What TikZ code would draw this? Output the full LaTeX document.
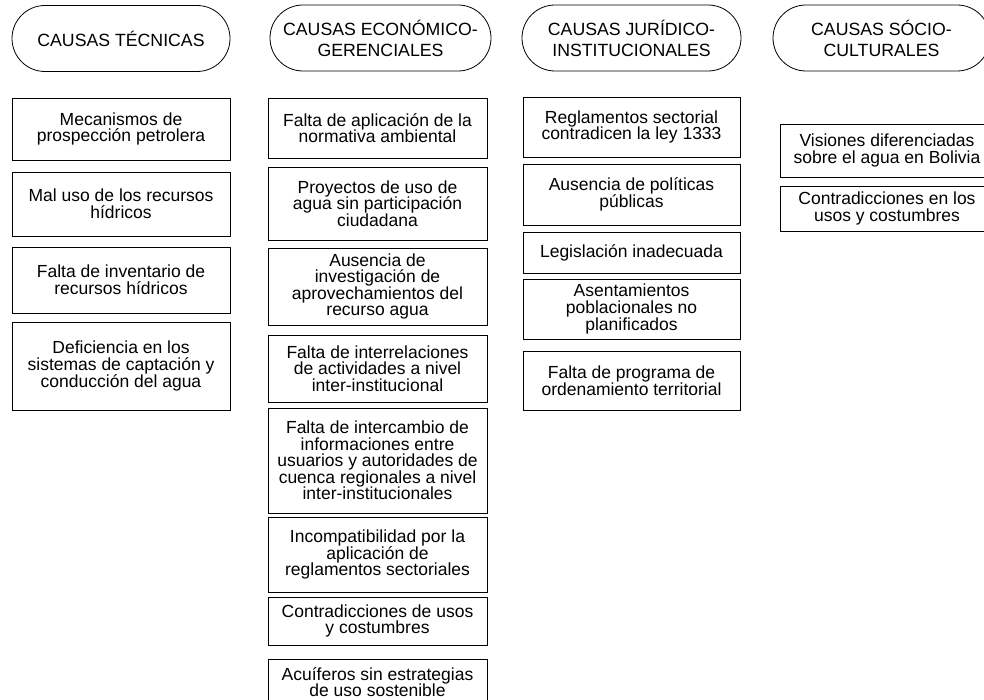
\documentclass[tikz,border=0pt]{standalone}
\usepackage{fontspec}
\setmainfont{Liberation Sans}
\usetikzlibrary{shapes.misc}

\begin{document}
\begin{tikzpicture}[x=1pt, y=-1pt,
    causa/.style={draw, rounded rectangle, line width=0.8pt, minimum height=66pt,
        align=center, inner sep=0pt, font=\fontsize{17.7}{21}\selectfont},
    problema/.style={draw, rectangle, line width=0.8pt, align=center, inner sep=0pt,
        font=\fontsize{17.5}{16.6}\selectfont}]
    \useasboundingbox (0,0) rectangle (984,700);
    \clip (0,0) rectangle (984,700);

    % Headers
    \node[causa, minimum width=218pt] (tec) at (121,38.5) {CAUSAS TÉCNICAS};
    \node[causa, minimum width=221pt] (eco) at (380.5,38) {CAUSAS ECONÓMICO-\\GERENCIALES};
    \node[causa, minimum width=219pt] (jur) at (631.5,38) {CAUSAS JURÍDICO-\\INSTITUCIONALES};
    \node[causa, minimum width=217pt] (soc) at (881.5,38) {CAUSAS SÓCIO-\\CULTURALES};

    % Causas tecnicas
    \node[problema, minimum width=218pt, minimum height=62pt] (tec1) at (121,129) {Mecanismos de\\prospección petrolera};
    \node[problema, minimum width=218pt, minimum height=64pt] (tec2) at (121,204) {Mal uso de los recursos\\hídricos};
    \node[problema, minimum width=218pt, minimum height=66pt] (tec3) at (121,280) {Falta de inventario de\\recursos hídricos};
    \node[problema, minimum width=218pt, minimum height=88pt] (tec4) at (121,366) {Deficiencia en los\\sistemas de captación y\\conducción del agua};

    % Causas economico-gerenciales
    \node[problema, minimum width=219pt, minimum height=60pt] (eco1) at (377.5,128) {Falta de aplicación de la\\normativa ambiental};
    \node[problema, minimum width=219pt, minimum height=73pt] (eco2) at (377.5,203.5) {Proyectos de uso de\\agua sin participación\\ciudadana};
    \node[problema, minimum width=219pt, minimum height=77pt] (eco3) at (377.5,286.5) {Ausencia de\\investigación de\\aprovechamientos del\\recurso agua};
    \node[problema, minimum width=219pt, minimum height=67pt] (eco4) at (377.5,368.5) {Falta de interrelaciones\\de actividades  a nivel\\inter-institucional};
    \node[problema, minimum width=219pt, minimum height=105pt] (eco5) at (377.5,460.5) {Falta de intercambio de\\informaciones entre\\usuarios y autoridades de\\cuenca regionales a nivel\\inter-institucionales};
    \node[problema, minimum width=219pt, minimum height=75pt] (eco6) at (377.5,554.5) {Incompatibilidad por la\\aplicación de\\reglamentos sectoriales};
    \node[problema, minimum width=219pt, minimum height=48pt] (eco7) at (377.5,621) {Contradicciones de usos\\y costumbres};
    \node[problema, minimum width=219pt, minimum height=46pt] (eco8) at (377.5,682) {Acuíferos sin estrategias\\de uso sostenible};

    % Causas juridico-institucionales
    \node[problema, minimum width=217pt, minimum height=60pt] (jur1) at (631.5,127) {Reglamentos sectorial\\contradicen la ley 1333};
    \node[problema, minimum width=217pt, minimum height=61pt] (jur2) at (631.5,194.5) {Ausencia de políticas\\públicas};
    \node[problema, minimum width=217pt, minimum height=41pt] (jur3) at (631.5,252.5) {Legislación inadecuada};
    \node[problema, minimum width=217pt, minimum height=60pt] (jur4) at (631.5,309) {Asentamientos\\poblacionales no\\planificados};
    \node[problema, minimum width=217pt, minimum height=59pt] (jur5) at (631.5,380.5) {Falta de programa de\\ordenamiento territorial};

    % Causas socio-culturales
    \node[problema, minimum width=214pt, minimum height=53pt] (soc1) at (887,150.5) {Visiones diferenciadas\\sobre el agua en Bolivia};
    \node[problema, minimum width=214pt, minimum height=45pt] (soc2) at (887,208.5) {Contradicciones en los\\usos y costumbres};
\end{tikzpicture}
\end{document}
